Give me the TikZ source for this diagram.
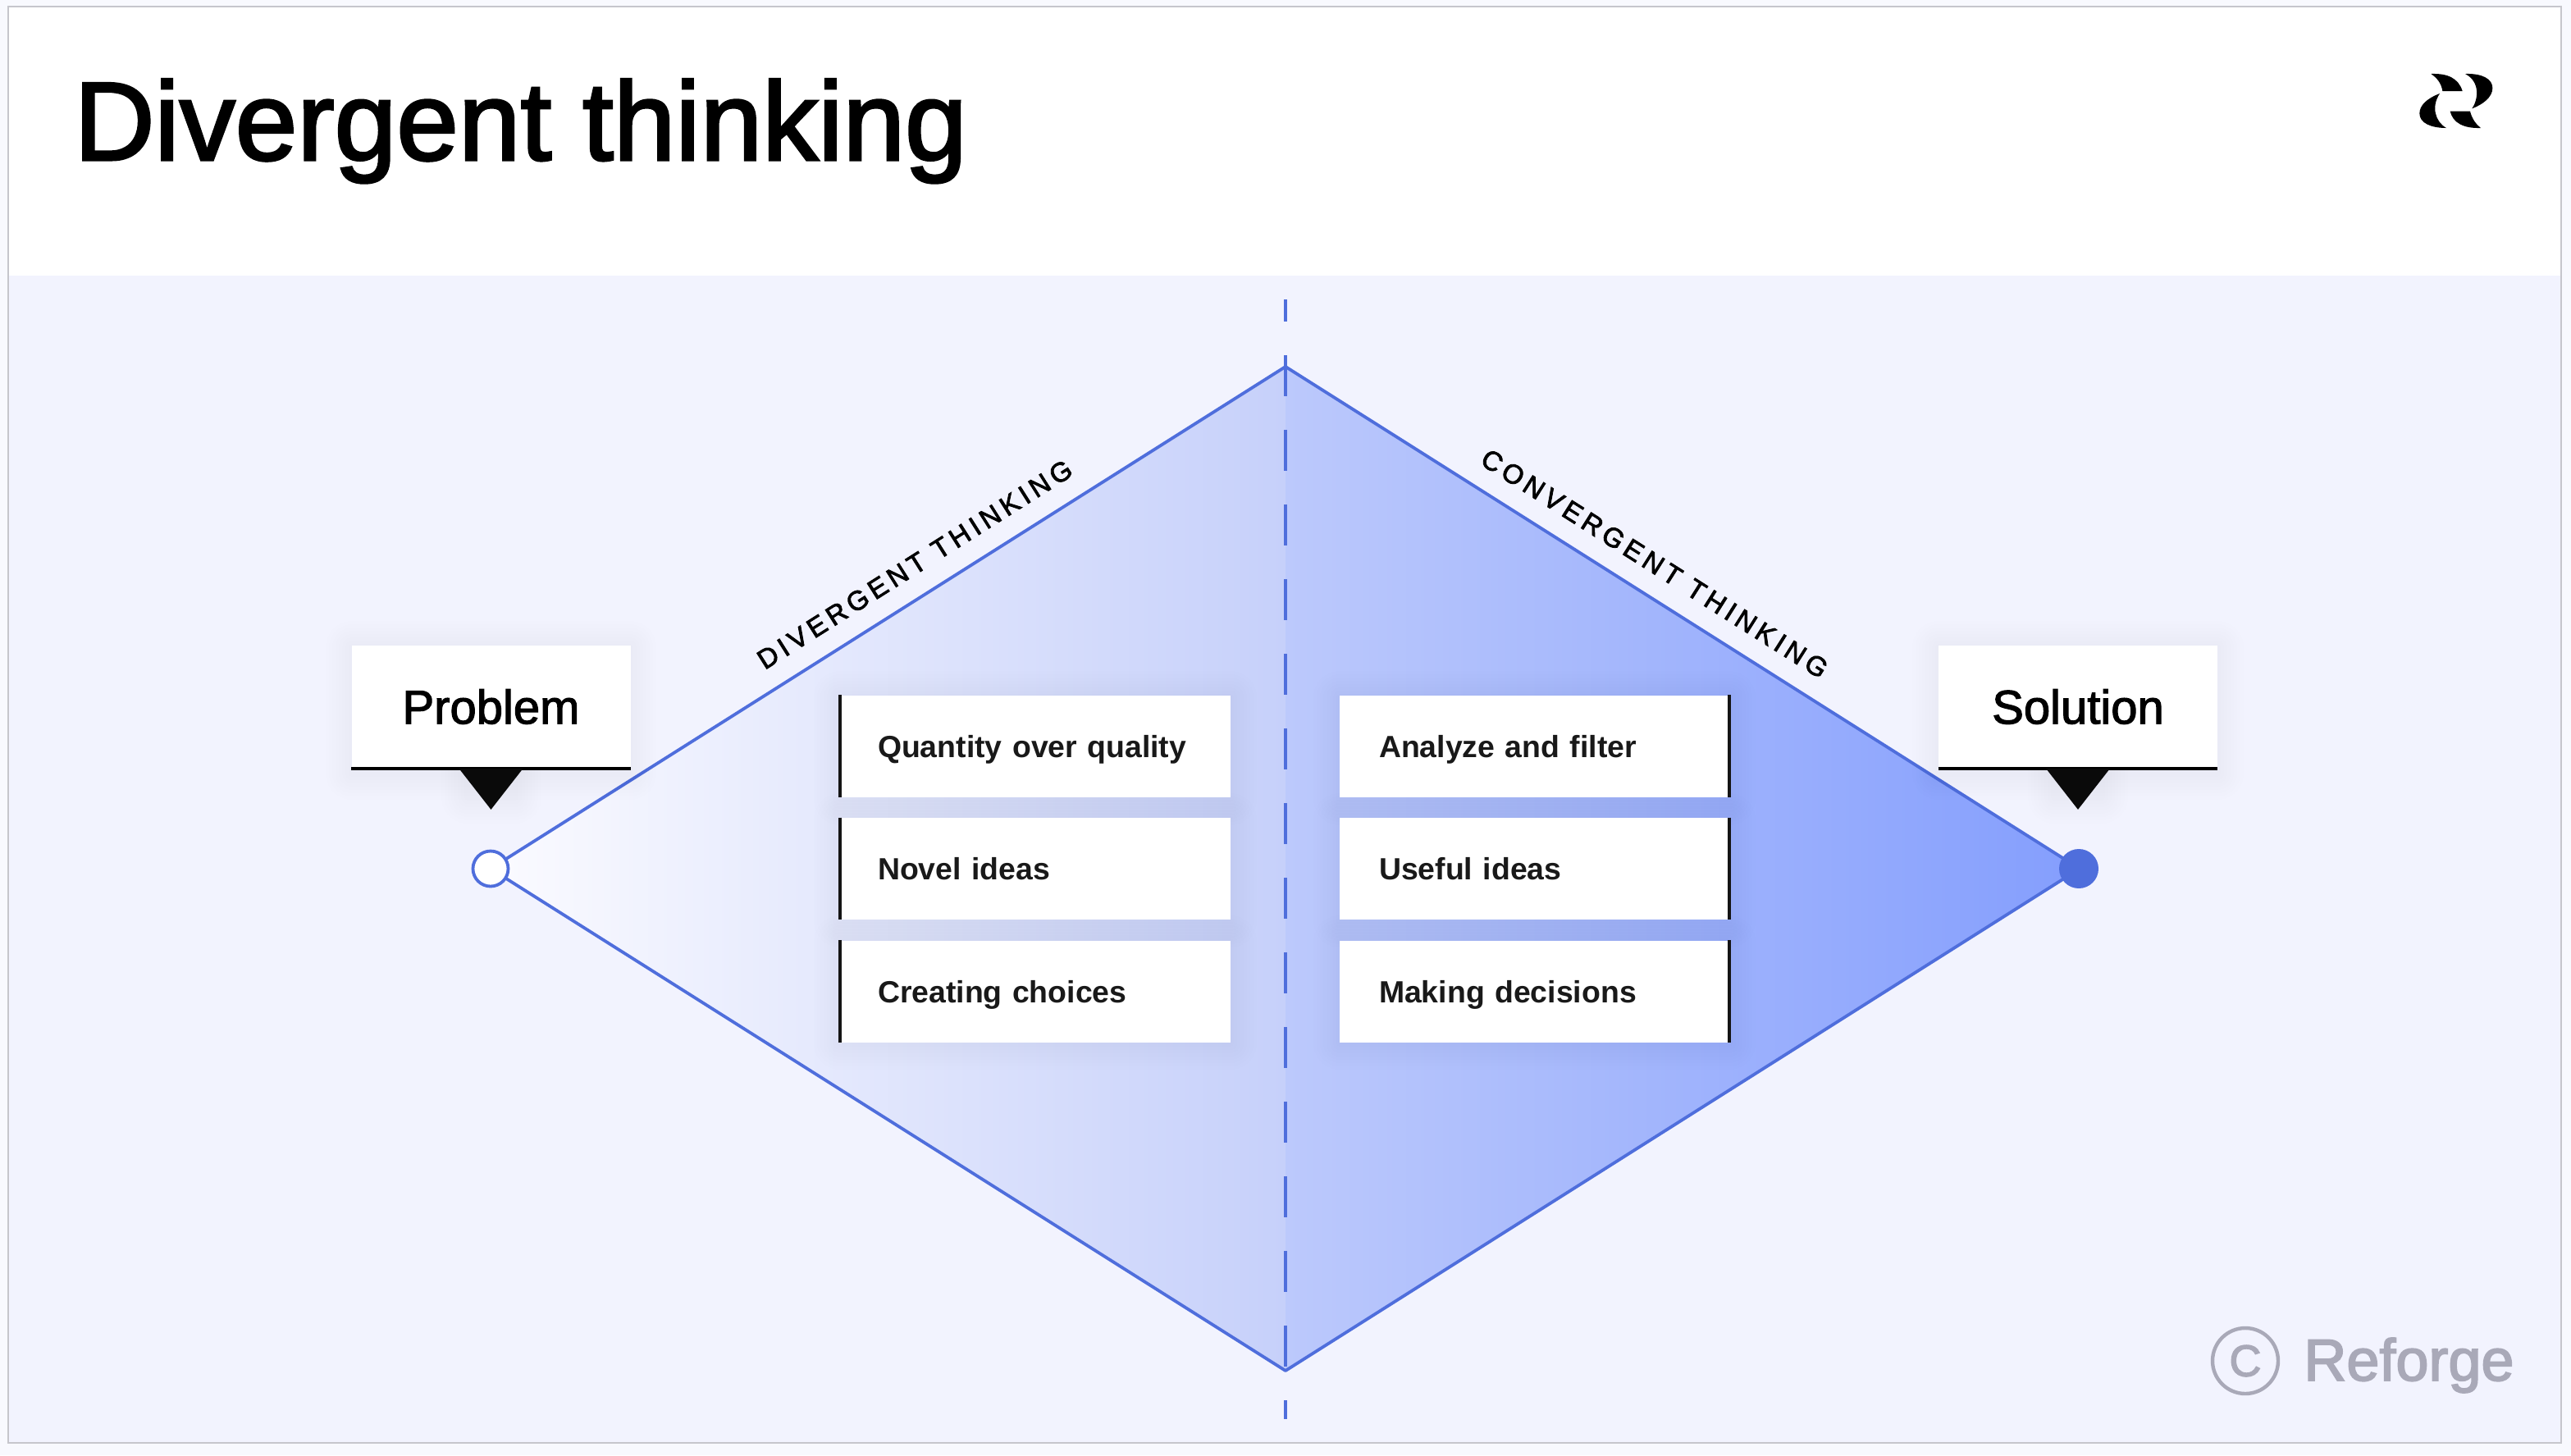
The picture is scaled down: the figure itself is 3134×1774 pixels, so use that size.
\documentclass[tikz,border=0pt]{standalone}
\usepackage{fontspec}
\setmainfont{Liberation Sans}
\newfontfamily\titlefont[FakeBold=2.2]{Liberation Sans}
\newfontfamily\labelfont[FakeBold=2]{Liberation Sans}
\newfontfamily\sidefont[FakeBold=2.5,LetterSpace=16.5]{Liberation Sans}
\newfontfamily\markfont[FakeBold=2.5]{Liberation Sans}
\usetikzlibrary{calc}
\definecolor{outerbg}{HTML}{F8F9FE}
\definecolor{panel}{HTML}{F2F3FE}
\definecolor{framec}{HTML}{C6C6CC}
\definecolor{edgeblue}{HTML}{4F6EDC}
\definecolor{markgrey}{HTML}{A9A9B8}
\definecolor{gradA}{HTML}{FBFBFF}
\definecolor{gradB}{HTML}{C6D0FA}
\definecolor{gradC}{HTML}{BCC9FC}
\definecolor{gradD}{HTML}{849EFD}
\tikzset{
  cardbox/.style={fill=white,inner ysep=0pt,minimum height=62pt,
    text height=17.5pt,text depth=4pt,align=left,text=black!90,
    font=\fontsize{18.7}{20}\selectfont\bfseries},
  leftcard/.style={cardbox,inner xsep=23pt,text width=192pt},
  rightcard/.style={cardbox,inner xsep=24pt,text width=189.5pt},
  labelbox/.style={fill=white,minimum width=170pt,minimum height=75pt,inner sep=0pt,
    font=\labelfont\fontsize{29}{32}\selectfont,text=black},
  edgeline/.style={draw=edgeblue,line width=1.9pt},
  barline/.style={draw=black!92,line width=2pt},
  underline/.style={draw=black,line width=2.4pt},
  pointer/.style={fill=black!96},
  sidelabel/.style={font=\sidefont\fontsize{16.5}{18}\selectfont,text=black,inner sep=0pt}
}
\newcommand\softshadow[4]{%
  \foreach \r in {4,8,...,32}{%
    \fill[black,opacity=.005,rounded corners=\r*0.5pt]
      (#1-\r,#2-\r+2) rectangle (#3+\r,#4+\r+2);
  }%
}
\begin{document}
\begin{tikzpicture}[x=0.5pt,y=-0.5pt]
\useasboundingbox (0,0) rectangle (3134,1774);
\fill[outerbg] (0,0) rectangle (3134,1774);
\fill[white] (10,8) rectangle (3122,336);
\fill[panel] (10,336) rectangle (3122,1759);
\draw[framec,line width=1pt] (10,8) rectangle (3122,1759);

\node[anchor=base west,inner sep=0pt,font=\titlefont\fontsize{68}{72}\selectfont,text=black] (title) at (90,195) {Divergent thinking};

% logo
\begin{scope}[shift={(2900,50)},x=0.16667pt,y=-0.16667pt]
  \fill[black] (190,120) .. controls (250,118) and (290,135) .. (305,183) -- (232,183) .. controls (228,155) and (212,135) .. (190,120) -- cycle;
  \fill[black] (315,120) .. controls (380,118) and (415,140) .. (415,172) .. controls (415,205) and (380,232) .. (340,247) .. controls (362,215) and (372,150) .. (315,120) -- cycle;
  \fill[black] (222,192) .. controls (175,210) and (148,235) .. (148,265) .. controls (148,300) and (190,318) .. (246,318) .. controls (205,295) and (190,240) .. (222,192) -- cycle;
  \fill[black] (260,257) -- (333,257) .. controls (340,285) and (355,305) .. (372,318) .. controls (310,320) and (270,300) .. (260,257) -- cycle;
\end{scope}

% diamond
\coordinate (dtop) at (1567,447);
\coordinate (dbot) at (1567,1671);
\coordinate (dleft) at (598,1059);
\coordinate (dright) at (2535,1059);
\shade[left color=gradA,right color=gradB] (dleft) -- (dtop) -- (dbot) -- cycle;
\shade[left color=gradC,right color=gradD] (dright) -- (dtop) -- (dbot) -- cycle;

% vertical dashed axis
\coordinate (axtop) at (1567,365);
\coordinate (axbot) at (1567,1730);
\draw[edgeblue,line width=2.2pt,dash pattern=on 25pt off 20.5pt,dash phase=11.5pt] (axtop) -- (axbot);

\draw[edgeline,line join=round] (dleft) -- (dtop) -- (dright) -- (dbot) -- cycle;

\node[draw=edgeblue,line width=1.9pt,fill=white,circle,minimum size=21.5pt,inner sep=0pt] (startpt) at (598,1059) {};
\node[fill=edgeblue,circle,minimum size=24pt,inner sep=0pt] (endpt) at (2534,1059) {};

% side labels
\node[sidelabel,rotate=-32.3] (conv) at (2017,687) {CONVERGENT THINKING};
\node[sidelabel,rotate=32.3] (div) at (1115,688) {DIVERGENT THINKING};

% Problem / Solution callouts
\softshadow{429}{787}{768}{941}
\softshadow{2363}{787}{2703}{941}
\softshadow{570}{941}{628}{970}
\softshadow{2504}{941}{2562}{970}
\node[labelbox] (problem) at (598.5,861.5) {Problem};
\node[labelbox] (solution) at (2533,861.5) {Solution};
\draw[underline] (problem.south west) -- (problem.south east);
\draw[underline] (solution.south west) -- (solution.south east);
\fill[pointer] ($(problem.south)+(-39,0)$) -- ($(problem.south)+(39,0)$) -- ($(problem.south)+(0,50)$) -- cycle;
\fill[pointer] ($(solution.south)+(-39,0)$) -- ($(solution.south)+(39,0)$) -- ($(solution.south)+(0,50)$) -- cycle;

% left cards
\softshadow{1024}{848}{1500}{972}
\softshadow{1024}{997}{1500}{1121}
\softshadow{1024}{1146}{1500}{1270}
\node[leftcard] (q1) at (1262,909.5) {Quantity over quality};
\node[leftcard] (q2) at (1262,1059) {Novel ideas};
\node[leftcard] (q3) at (1262,1208.5) {Creating choices};
\draw[barline] (q1.north west) -- (q1.south west);
\draw[barline] (q2.north west) -- (q2.south west);
\draw[barline] (q3.north west) -- (q3.south west);

% right cards
\softshadow{1633}{848}{2108}{972}
\softshadow{1633}{997}{2108}{1121}
\softshadow{1633}{1146}{2108}{1270}
\node[rightcard] (a1) at (1870.5,909.5) {Analyze and filter};
\node[rightcard] (a2) at (1870.5,1059) {Useful ideas};
\node[rightcard] (a3) at (1870.5,1208.5) {Making decisions};
\draw[barline] (a1.north east) -- (a1.south east);
\draw[barline] (a2.north east) -- (a2.south east);
\draw[barline] (a3.north east) -- (a3.south east);

% watermark
\node[draw=markgrey,line width=2.2pt,circle,minimum size=40pt,inner sep=0pt,text=markgrey,
  font=\markfont\fontsize{27}{30}\selectfont] (cmark) at (2737,1659) {C};
\node[anchor=base west,inner sep=0pt,text=markgrey,font=\markfont\fontsize{36}{40}\selectfont] (reforge) at (2808,1683) {Reforge};
\end{tikzpicture}
\end{document}
